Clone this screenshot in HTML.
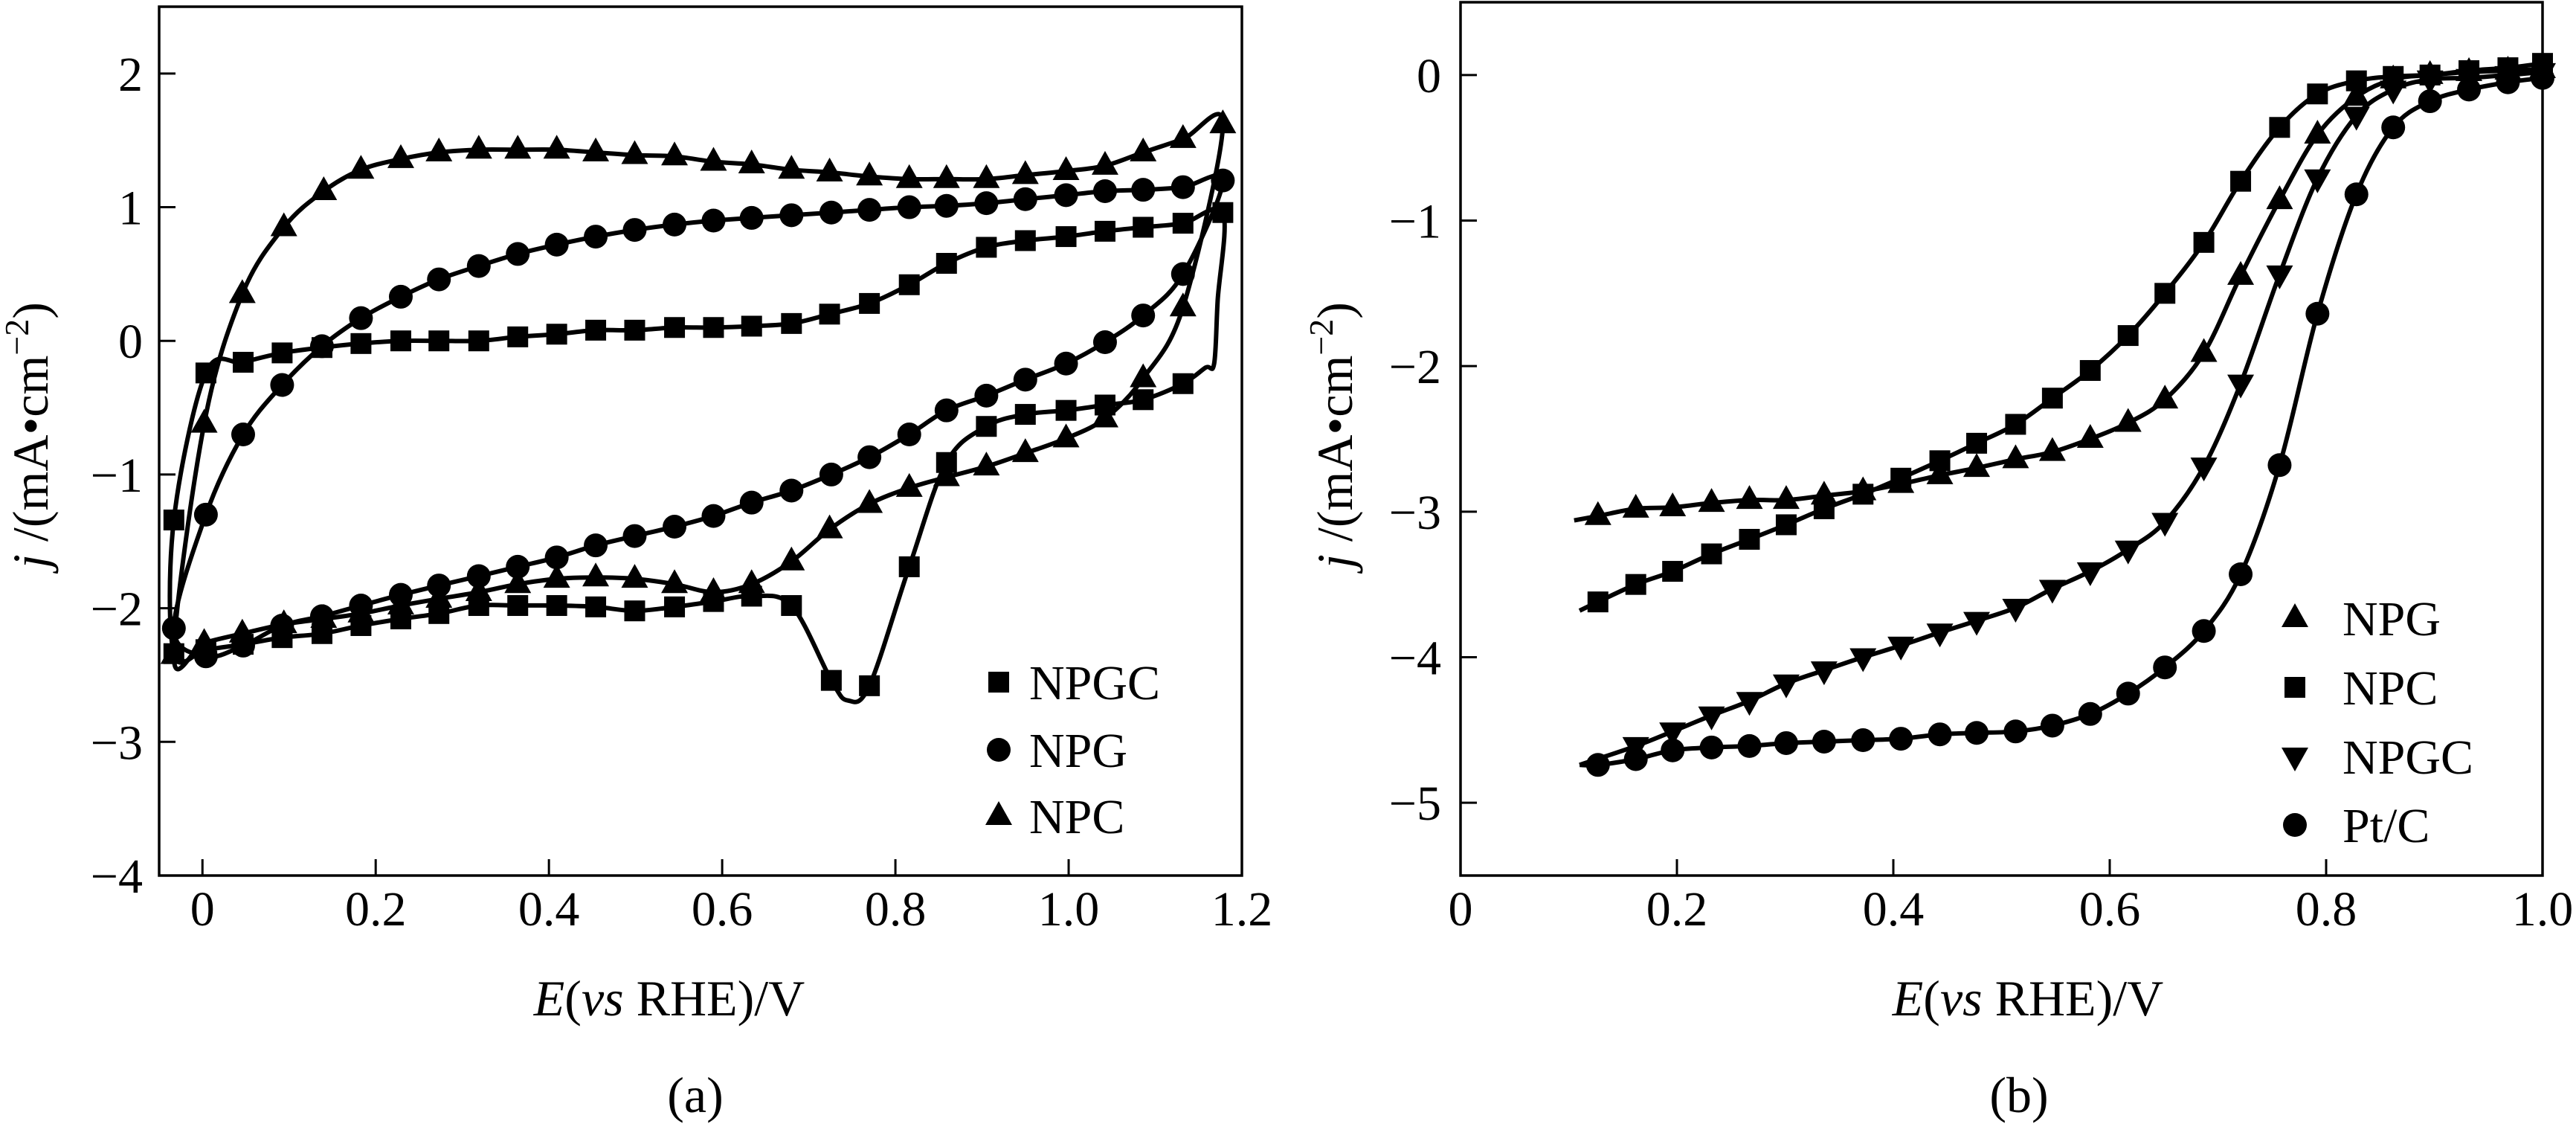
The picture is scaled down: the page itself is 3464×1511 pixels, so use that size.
<!DOCTYPE html>
<html><head><meta charset="utf-8"><style>
html,body{margin:0;padding:0;background:#fff}
svg{display:block}
text{font-family:"Liberation Serif",serif;fill:#000}
</style></head><body>
<svg id="fig" width="3464" height="1511" viewBox="0 0 3464 1511" xmlns="http://www.w3.org/2000/svg">
<g id="pa"></g>
<g id="pb"></g>
</svg>
<script>
// ---------- Panel (a) data: CV loops ----------
const aNPCx = [-0.033,0.002,0.046,0.094,0.14,0.183,0.229,0.273,0.319,0.364,0.409,0.454,0.499,0.545,0.59,0.634,0.68,0.724,0.77,0.816,0.859,0.905,0.95,0.997,1.042,1.086,1.132,1.178,1.132,1.086,1.042,0.997,0.95,0.905,0.859,0.816,0.77,0.724,0.68,0.634,0.59,0.545,0.499,0.454,0.409,0.364,0.319,0.273,0.229,0.183,0.14,0.094,0.046,0.002];
const aNPCy = [-2.35,-0.62,0.35,0.85,1.12,1.28,1.36,1.41,1.43,1.43,1.43,1.41,1.39,1.38,1.34,1.32,1.28,1.26,1.23,1.21,1.21,1.21,1.24,1.27,1.31,1.41,1.51,1.62,0.25,-0.28,-0.58,-0.73,-0.84,-0.94,-1.02,-1.10,-1.22,-1.41,-1.65,-1.82,-1.88,-1.82,-1.78,-1.77,-1.78,-1.82,-1.88,-1.93,-1.98,-2.04,-2.08,-2.12,-2.19,-2.26];
const aNPCm = aNPCx.map(()=>1);
const aNPGx = [-0.033,0.004,0.047,0.092,0.138,0.183,0.229,0.273,0.319,0.364,0.409,0.454,0.499,0.545,0.59,0.634,0.68,0.726,0.77,0.816,0.859,0.905,0.95,0.997,1.042,1.086,1.132,1.178,1.132,1.086,1.042,0.997,0.95,0.905,0.859,0.816,0.77,0.726,0.68,0.634,0.59,0.545,0.499,0.454,0.409,0.364,0.319,0.273,0.229,0.183,0.138,0.092,0.047,0.004];
const aNPGy = [-2.15,-1.30,-0.70,-0.33,-0.04,0.17,0.33,0.46,0.56,0.65,0.72,0.78,0.83,0.87,0.90,0.92,0.94,0.96,0.98,1.00,1.01,1.03,1.06,1.09,1.12,1.13,1.15,1.20,0.50,0.19,-0.01,-0.17,-0.29,-0.41,-0.52,-0.70,-0.87,-1.00,-1.12,-1.21,-1.31,-1.39,-1.46,-1.53,-1.62,-1.69,-1.76,-1.83,-1.90,-1.98,-2.06,-2.13,-2.28,-2.36];
const aNPGm = aNPGx.map(()=>1);
const aNPGCx = [-0.033,0.004,0.047,0.092,0.138,0.183,0.229,0.273,0.319,0.364,0.409,0.454,0.499,0.545,0.59,0.634,0.68,0.724,0.77,0.816,0.859,0.905,0.95,0.997,1.042,1.086,1.132,1.178,1.172,1.168,1.158,1.132,1.086,1.042,0.997,0.95,0.905,0.859,0.816,0.77,0.745,0.726,0.68,0.634,0.59,0.545,0.499,0.454,0.409,0.364,0.319,0.273,0.229,0.183,0.138,0.092,0.047,0.004,-0.033];
const aNPGCy = [-1.34,-0.24,-0.16,-0.09,-0.05,-0.02,0.0,0.0,0.0,0.03,0.05,0.08,0.08,0.10,0.10,0.11,0.13,0.20,0.28,0.42,0.58,0.70,0.75,0.78,0.82,0.85,0.88,0.96,0.30,-0.17,-0.20,-0.32,-0.44,-0.48,-0.52,-0.55,-0.64,-0.91,-1.69,-2.58,-2.69,-2.54,-1.98,-1.91,-1.95,-1.99,-2.02,-1.99,-1.98,-1.98,-1.98,-2.04,-2.08,-2.13,-2.19,-2.22,-2.27,-2.31,-2.34];
const aNPGCm = [1,1,1,1,1,1,1,1,1,1,1,1,1,1,1,1,1,1,1,1,1,1,1,1,1,1,1,1,0,0,0,1,1,1,1,1,1,1,1,1,0,1,1,1,1,1,1,1,1,1,1,1,1,1,1,1,1,1,1];
const aXTicks = [0,0.2,0.4,0.6,0.8,1.0,1.2];
const aXTickLabels = ["0","0.2","0.4","0.6","0.8","1.0","1.2"];
const aYTicks = [2,1,0,-1,-2,-3,-4];
const aYTickLabels = ["2","1","0","\u22121","\u22122","\u22123","\u22124"];

// ---------- Panel (b) data: LSV curves ----------
const bX = [0.127,0.162,0.196,0.232,0.267,0.301,0.336,0.372,0.407,0.443,0.477,0.513,0.547,0.582,0.617,0.651,0.687,0.721,0.757,0.792,0.828,0.862,0.896,0.932,0.968,1.0];
const bNPGy  = [-3.03,-2.98,-2.97,-2.94,-2.92,-2.92,-2.89,-2.86,-2.81,-2.75,-2.70,-2.64,-2.59,-2.50,-2.39,-2.23,-1.91,-1.38,-0.86,-0.41,-0.15,-0.03,0.0,0.02,0.03,0.04];
const bNPCy  = [-3.62,-3.50,-3.41,-3.29,-3.19,-3.09,-2.98,-2.88,-2.77,-2.65,-2.53,-2.40,-2.22,-2.03,-1.79,-1.50,-1.15,-0.73,-0.36,-0.13,-0.04,-0.01,0.0,0.03,0.05,0.08];
const bNPGCy = [null,-4.61,-4.51,-4.40,-4.30,-4.18,-4.09,-4.00,-3.92,-3.83,-3.75,-3.66,-3.53,-3.41,-3.26,-3.07,-2.69,-2.12,-1.37,-0.71,-0.28,-0.10,-0.03,-0.02,0.0,0.02];
const bPtCy  = [-4.74,-4.70,-4.64,-4.62,-4.61,-4.59,-4.58,-4.57,-4.56,-4.53,-4.52,-4.51,-4.47,-4.39,-4.25,-4.07,-3.82,-3.43,-2.68,-1.64,-0.82,-0.36,-0.18,-0.10,-0.05,-0.02];
const bStartX = [0.105,0.11,0.11,0.11];
const bStartY = [-3.06,-3.68,-4.74,-4.74];
const bXTicks = [0,0.2,0.4,0.6,0.8,1.0];
const bXTickLabels = ["0","0.2","0.4","0.6","0.8","1.0"];
const bYTicks = [0,-1,-2,-3,-4,-5];
const bYTickLabels = ["0","\u22121","\u22122","\u22123","\u22124","\u22125"];

const NS="http://www.w3.org/2000/svg";
function mk(tag,parent,attrs){const e=document.createElementNS(NS,tag);for(const k in attrs)e.setAttribute(k,attrs[k]);parent.appendChild(e);return e;}
function lin(d0,d1,r0,r1){return v=>r0+(v-d0)*(r1-r0)/(d1-d0);}
function smoothPath(pts,closed){
  const n=pts.length; if(n<2) return "";
  const P=i=>closed?pts[(i+n)%n]:pts[Math.max(0,Math.min(n-1,i))];
  let d=`M${pts[0][0].toFixed(1)},${pts[0][1].toFixed(1)}`;
  const segs=closed?n:n-1;
  for(let i=0;i<segs;i++){
    const p0=P(i-1),p1=P(i),p2=P(i+1),p3=P(i+2);
    const c1=[p1[0]+(p2[0]-p0[0])/6,p1[1]+(p2[1]-p0[1])/6];
    const c2=[p2[0]-(p3[0]-p1[0])/6,p2[1]-(p3[1]-p1[1])/6];
    d+=`C${c1[0].toFixed(1)},${c1[1].toFixed(1)} ${c2[0].toFixed(1)},${c2[1].toFixed(1)} ${p2[0].toFixed(1)},${p2[1].toFixed(1)}`;
  }
  return d+(closed?"Z":"");
}
function marker(g,type,x,y,name){
  let e;
  if(type==="square"){e=mk("rect",g,{x:x-14,y:y-14,width:28,height:28,fill:"#000"});}
  else if(type==="circle"){e=mk("circle",g,{cx:x,cy:y,r:16,fill:"#000"});}
  else if(type==="tri"){e=mk("polygon",g,{points:`${x},${y-20} ${x-18},${y+12} ${x+18},${y+12}`,fill:"#000"});}
  else {e=mk("polygon",g,{points:`${x},${y+20} ${x-18},${y-12} ${x+18},${y-12}`,fill:"#000"});}
  
  
  return e;
}
function axes(g,L,R,T,B,sx,sy,xt,xl,yt,yl,labX,titleCx,titleY,panelLbl,panelCx,ylabCx){
  const box=mk("rect",g,{x:L,y:T,width:R-L,height:B-T,fill:"none",stroke:"#000","stroke-width":3.5});
  
  
  xt.forEach((v,i)=>{
    const x=sx(v);
    const t=mk("line",g,{x1:x,y1:B,x2:x,y2:B-22,stroke:"#000","stroke-width":3});
    
    
    const tx=mk("text",g,{x:x,y:B+67,"font-size":66,"text-anchor":"middle"});
    tx.textContent=xl[i];
    
    
  });
  yt.forEach((v,i)=>{
    const y=sy(v);
    const t=mk("line",g,{x1:L,y1:y,x2:L+22,y2:y,stroke:"#000","stroke-width":3});
    
    
    const tx=mk("text",g,{x:labX,y:y+23,"font-size":66,"text-anchor":"end"});
    tx.textContent=yl[i];
    
    
  });
  const xt2=mk("text",g,{x:titleCx,y:titleY,"font-size":68,"text-anchor":"middle"});
  xt2.innerHTML='<tspan font-style="italic">E</tspan>(<tspan font-style="italic">vs</tspan> RHE)/V';
  
  
  const yt2=mk("text",g,{x:0,y:0,"font-size":68,"text-anchor":"middle",transform:`translate(${ylabCx},585) rotate(-90)`});
  yt2.innerHTML='<tspan font-style="italic">j</tspan>  /(mA\u2022cm<tspan dy="-26" font-size="46">\u22122</tspan><tspan dy="26">)</tspan>';
  
  
  const pl=mk("text",g,{x:panelCx,y:1495,"font-size":68,"text-anchor":"middle"});
  pl.textContent=panelLbl;
  
  
}
function legend(g,type,mx,tx,y,label){
  const lg=mk("g",g,{});
  
  
  marker(lg,type,mx,y,'legend-marker');
  const t=mk("text",lg,{x:tx,y:y+23,"font-size":66});
  t.textContent=label;
  
  
}

// ----- Panel A -----
(function(){
  const g=document.getElementById("pa");
  const L=214,R=1670,T=9,B=1177;
  const sx=lin(-0.05,1.2,L,R), sy=lin(2.5,-4,T,B);
  axes(g,L,R,T,B,sx,sy,aXTicks,aXTickLabels,aYTicks,aYTickLabels,192,900,1365,"(a)",935,64);
  const series=[[aNPGCx,aNPGCy,aNPGCm,"square","npgc"],[aNPGx,aNPGy,aNPGm,"circle","npg"],[aNPCx,aNPCy,aNPCm,"tri","npc"]];
  series.forEach(([xs,ys,ms,type,nm])=>{
    const sg=mk("g",g,{});
    
    
    const pts=xs.map((x,i)=>[sx(x),sy(ys[i])]);
    const p=mk("path",sg,{d:smoothPath(pts,true),fill:"none",stroke:"#000","stroke-width":6,"stroke-linejoin":"round"});
    
    
    pts.forEach((pt,i)=>{ if(ms[i]) marker(sg,type,pt[0],pt[1],'point-'+nm); });
  });
  legend(g,"square",1343,1384,917,"NPGC");
  legend(g,"circle",1343,1384,1008,"NPG");
  legend(g,"tri",1343,1384,1097,"NPC");
})();

// ----- Panel B -----
(function(){
  const g=document.getElementById("pb");
  const L=1964,R=3419,T=3,B=1177;
  const sx=lin(0,1,L,R), sy=lin(0.5,-5.5,T,B);
  axes(g,L,R,T,B,sx,sy,bXTicks,bXTickLabels,bYTicks,bYTickLabels,1938,2727,1365,"(b)",2715,1818);
  const series=[[bNPGy,"tri","npg"],[bNPCy,"square","npc"],[bNPGCy,"down","npgc"],[bPtCy,"circle","ptc"]];
  series.forEach(([ys,type,nm],k)=>{
    const sg=mk("g",g,{});
    
    
    const pts=[[sx(bStartX[k]),sy(bStartY[k])]];
    bX.forEach((x,i)=>{ if(ys[i]!==null) pts.push([sx(x),sy(ys[i])]); });
    const p=mk("path",sg,{d:smoothPath(pts,false),fill:"none",stroke:"#000","stroke-width":6,"stroke-linejoin":"round"});
    
    
    pts.slice(1).forEach(pt=>marker(sg,type,pt[0],pt[1],'point-'+nm));
  });
  legend(g,"tri",3086,3150,831,"NPG");
  legend(g,"square",3086,3150,924,"NPC");
  legend(g,"down",3086,3150,1017,"NPGC");
  legend(g,"circle",3086,3150,1109,"Pt/C");
})();
</script>
</body></html>
